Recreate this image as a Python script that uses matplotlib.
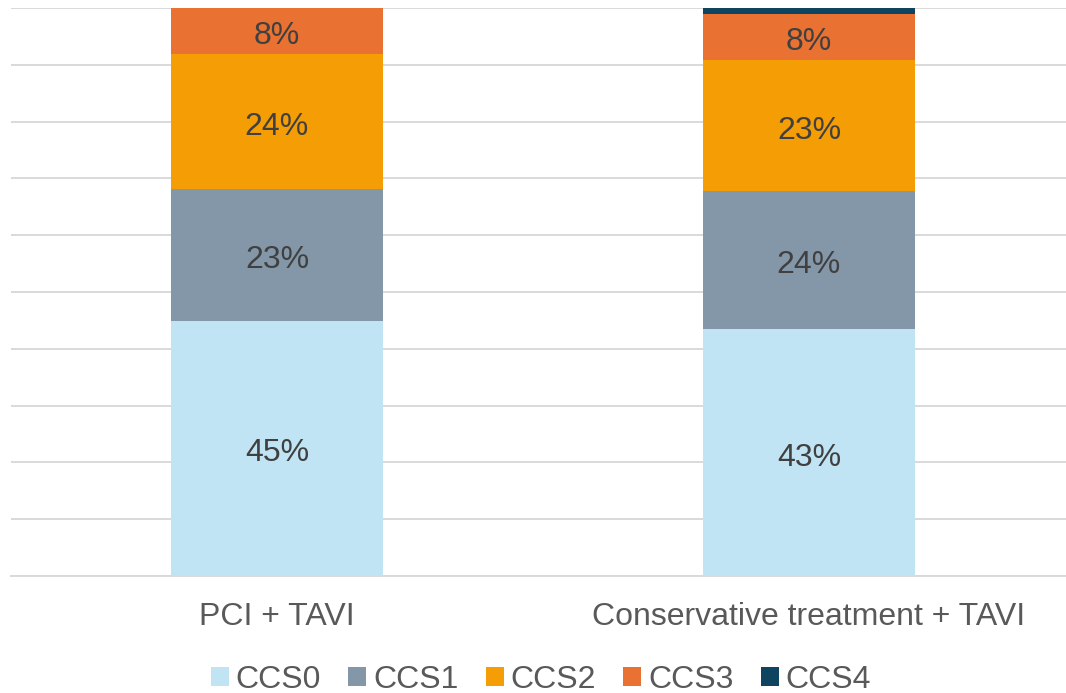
import numpy as np
import matplotlib as mpl
mpl.use('Agg')
import matplotlib.pyplot as plt
from matplotlib.patches import Patch

plt.rc('font', family=['Liberation Sans', 'DejaVu Sans'])

# share of patients per CCS angina class (%)
groups = ['PCI + TAVI', 'Conservative treatment + TAVI']
classes = ['CCS0', 'CCS1', 'CCS2', 'CCS3', 'CCS4']
ccs0 = [44.9, 43.4]
ccs1 = [23.2, 24.3]
ccs2 = [23.8, 23.1]
ccs3 = [8.1, 8.1]
ccs4 = [0.0, 1.1]
colors = ['#C0E4F4', '#8497A9', '#F59D04', '#E97132', '#0E445F']

series = [ccs0, ccs1, ccs2, ccs3, ccs4]

fig = plt.figure(figsize=(10.66, 6.93), dpi=100)
a = fig.add_axes([11/1066, 117/693, 1064/1066, 568/693])

x = np.arange(len(groups))
bottom = np.zeros(len(groups))
for vals, c in zip(series, colors):
    vals = np.array(vals)
    a.bar(x, vals, 0.4, bottom=bottom, color=c, zorder=2)
    for xi, b, v in zip(x, bottom, vals):
        if v >= 5:
            a.annotate('%.0f%%' % v, (xi, b + v/2), xytext=(0, -3.6),
                       textcoords='offset points', ha='center', va='center',
                       fontsize=23, color='#404040', zorder=3)
    bottom += vals

a.set_xlim(-0.5, 1.5)
a.set_ylim(0, 100)
a.set_yticks(np.arange(0, 101, 10))
a.yaxis.grid(True, color='#D9D9D9', linewidth=1.4, zorder=0)
a.tick_params(axis='y', left=False, labelleft=False)
a.tick_params(axis='x', bottom=False, pad=15.5, labelsize=23, labelcolor='#595959')
a.set_xticks(x)
a.set_xticklabels(groups)
for s in ['top', 'right', 'left']:
    a.spines[s].set_visible(False)
a.spines['bottom'].set_color('#D9D9D9')
a.spines['bottom'].set_linewidth(1.4)
a.spines['bottom'].set_zorder(1)

handles = [Patch(facecolor=c, edgecolor='none') for c in colors]
leg = fig.legend(handles, classes, loc='center', bbox_to_anchor=(541/1066, 13/693),
                 ncol=5, frameon=False, fontsize=23, handlelength=0.56,
                 handleheight=0.56, handletextpad=0.22, columnspacing=0.85)
for t in leg.get_texts():
    t.set_color('#595959')

fig.savefig('out.png', dpi=100)
